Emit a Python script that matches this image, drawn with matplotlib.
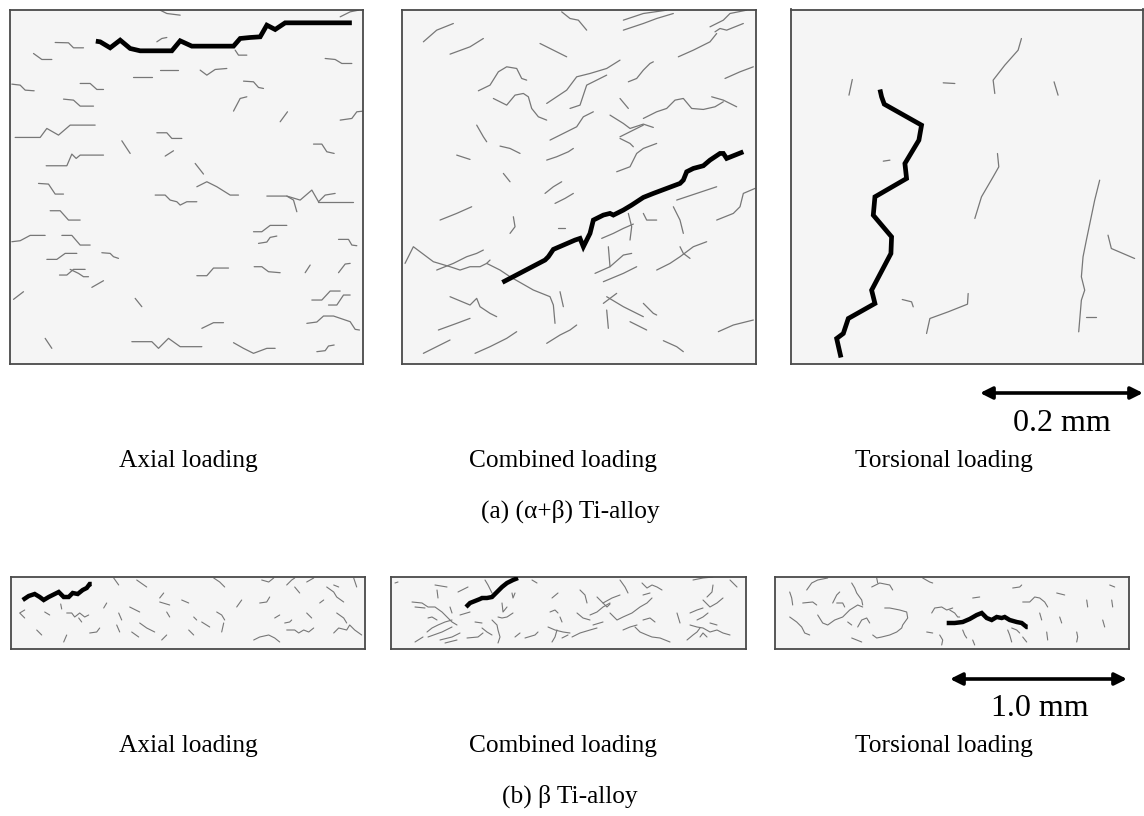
import matplotlib
matplotlib.use("Agg")
import matplotlib.pyplot as plt

W, H = 1144, 816

a_axial_main = [(287,123),(300,125),(330,143),(360,120),(390,145),(420,152),(515,152),(540,122),
                (575,138),(700,138),(720,115),(750,112),(780,110),(800,75),(825,88),(855,68),(1055,68)]
a_axial_minor = [
    [(480,30),(500,40),(540,45)], [(1020,50),(1050,35),(1075,30)],
    [(165,127),(205,128),(220,143),(250,143)], [(100,160),(125,178),(155,178)],
    [(470,125),(485,115),(500,112)], [(705,150),(715,165),(740,165)],
    [(975,175),(1005,178),(1025,190),(1055,190)], [(480,210),(535,210)],
    [(600,210),(620,225),(645,208),(680,205)], [(400,232),(455,232)],
    [(240,250),(270,250),(290,268),(310,268)], [(35,252),(60,255),(75,270),(102,272)],
    [(730,243),(760,245),(775,262),(790,265)], [(190,297),(220,300),(240,318),(280,318)],
    [(700,333),(720,295),(740,290)], [(1020,360),(1055,355),(1070,335),(1090,333)],
    [(840,365),(862,335)], [(45,412),(120,412),(140,385),(175,405),(210,375),(285,375)],
    [(470,398),(500,398),(515,415),(545,415)], [(365,422),(380,445),(390,460)],
    [(495,468),(520,452)], [(940,432),(965,432),(980,455),(1002,460)],
    [(138,497),(200,497),(215,462),(228,475),(240,465),(310,465)], [(585,490),(610,522)],
    [(115,550),(145,552),(165,582),(190,582)], [(590,560),(620,545),(650,560),(690,585),(715,585)],
    [(465,585),(495,585),(510,600),(530,605),(540,615),(560,605),(590,605)],
    [(800,588),(860,588),(880,600),(890,635)],
    [(860,588),(900,600),(935,570),(955,605),(975,585),(1005,580)], [(955,605),(1060,605)],
    [(150,632),(180,632),(205,660),(240,660)], [(760,695),(785,695),(810,676),(860,676)],
    [(35,725),(60,722),(90,706),(135,706)], [(185,706),(215,706),(240,735),(270,735)],
    [(775,730),(800,726),(810,712),(830,708)], [(1015,718),(1045,718),(1055,735),(1070,737)],
    [(140,778),(170,778),(195,760),(230,760)], [(305,758),(330,760),(340,770),(355,775)],
    [(178,825),(200,825),(220,808),(255,808)], [(210,808),(235,820),(250,830),(265,830)],
    [(275,862),(310,842)], [(590,827),(620,827),(640,804),(685,804)],
    [(762,800),(785,800),(805,815),(840,818)], [(915,818),(930,795)],
    [(1015,818),(1035,792),(1050,790)], [(40,898),(70,875)], [(405,895),(425,920)],
    [(935,900),(965,900),(990,873),(1020,873)], [(985,915),(1010,915),(1030,885),(1050,885)],
    [(605,985),(640,968),(670,968)],
    [(920,970),(950,966),(970,948),(1000,948),(1050,965),(1065,988),(1078,990)],
    [(135,1015),(155,1045)], [(395,1025),(455,1025),(475,1045),(505,1015),(540,1040),(605,1040)],
    [(700,1028),(730,1045),(760,1060),(800,1045),(825,1045)],
    [(950,1055),(975,1052),(985,1038),(1002,1035)],
]

a_combined_main = [(337,847),(465,780),(475,770),(490,748),(555,720),(570,715),(580,740),(600,700),
                   (610,660),(640,645),(660,640),(670,645),(700,630),(725,615),(760,592),(790,580),
                   (870,550),(880,540),(890,515),(910,505),(940,497),(960,480),(990,460),(1000,460),
                   (1010,475),(1035,465),(1060,455)]
a_combined_minor = [
    [(100,125),(140,90),(190,70)], [(180,162),(240,140),(280,115)],
    [(515,35),(540,55),(565,60),(590,90)], [(700,60),(760,40),(830,30)],
    [(700,90),(760,70),(800,55),(850,40)], [(960,80),(1000,60),(1020,40),(1070,30)],
    [(975,95),(990,85),(1010,90),(1060,70)], [(450,130),(490,150),(530,170)],
    [(865,170),(910,150),(960,125),(980,100)],
    [(265,272),(300,255),(325,215),(350,200),(380,205),(395,235),(410,240)],
    [(310,295),(350,315),(375,285),(400,280),(415,290),(425,325),(445,350),(470,360)],
    [(540,325),(570,315),(590,255),(620,240),(650,225)],
    [(470,310),(500,290),(530,270),(560,230),(600,220),(650,205),(690,180)],
    [(715,245),(740,235),(760,210),(780,190),(790,185)], [(1005,235),(1050,215),(1090,200)],
    [(690,295),(715,325)],
    [(760,355),(800,335),(830,325),(855,300),(880,295),(905,325),(940,328),(975,320),(1000,305)],
    [(965,290),(1000,300),(1040,320)], [(660,345),(700,370),(720,385),(760,372),(790,382)],
    [(480,420),(520,400),(560,380),(580,350),(610,335)], [(690,410),(720,395),(760,375)],
    [(690,415),(720,430),(730,440)], [(260,375),(280,410),(290,425)],
    [(330,438),(360,445),(390,460)], [(470,480),(500,470),(535,455),(550,445)],
    [(200,465),(240,478)], [(680,515),(720,500),(740,460),(760,445),(800,430)],
    [(340,520),(360,545)], [(465,580),(490,560),(515,545)], [(495,610),(525,595),(550,580)],
    [(150,660),(200,640),(245,620)], [(505,685),(525,685)], [(370,650),(375,680),(360,700)],
    [(635,715),(670,700),(700,685),(730,672)], [(760,640),(770,660),(800,660)],
    [(850,620),(870,660),(880,700)], [(860,600),(920,580),(980,560)],
    [(980,660),(1030,640),(1050,620),(1060,580),(1095,565)], [(715,640),(725,680),(720,720)],
    [(655,740),(660,800)], [(615,820),(660,800),(700,765),(725,760)],
    [(640,845),(700,820),(740,800)],
    [(45,790),(70,740),(90,755),(130,785),(180,800),(210,810),(240,800),(270,800),(290,790),(300,780)],
    [(290,790),(310,800),(330,810),(360,830),(430,870),(480,890),(490,915),(495,970)],
    [(140,810),(190,790),(230,770),(260,760),(280,750)],
    [(800,810),(840,790),(870,770),(910,740),(950,725)], [(870,740),(880,760),(900,775)],
    [(180,890),(240,915),(260,895),(270,920),(300,940),(320,950)], [(510,875),(520,920)],
    [(650,890),(700,920),(740,940),(760,950)], [(640,910),(680,880)],
    [(760,910),(790,940),(800,945)], [(650,930),(655,985)], [(720,965),(770,990)],
    [(145,990),(200,970),(240,955)], [(470,1030),(510,1005),(540,990),(560,975)],
    [(100,1060),(150,1035),(180,1020)], [(255,1060),(300,1040),(350,1015),(380,995)],
    [(820,1022),(860,1040),(880,1055)], [(985,995),(1030,975),(1090,960)],
]

a_torsional_main = [(315,268),(320,290),(328,312),(440,375),(432,420),(405,465),(390,490),(395,535),
                    (300,590),(295,645),(350,710),(348,760),(290,870),(300,910),(220,955),(205,1000),
                    (185,1015),(198,1072)]
a_torsional_minor = [
    [(222,285),(232,238)], [(505,248),(540,250)],
    [(740,115),(730,150),(690,195),(655,240),(660,280)], [(838,245),(850,285)],
    [(325,483),(345,480)], [(668,460),(672,500),(655,530),(620,590),(600,655)],
    [(975,540),(960,600),(935,720),(925,770),(920,830),(930,870),(920,900),(912,995)],
    [(1000,705),(1010,745),(1080,775)], [(382,898),(410,905),(415,920)],
    [(580,880),(578,912),(520,935),(465,955),(455,1000)], [(935,950),(965,950)],
]

b_axial_main = [(12,23),(18,19),(24,17),(29,20),(33,23),(38,20),(44,17),(48,15),(53,20),(58,20),
                (62,16),(67,17),(72,13),(76,11),(79,7),(81,7)]
b_axial_minor = [
    [(103,1),(108,8)], [(126,3),(136,10)], [(50,27),(51,32)],
    [(14,33),(9,36),(14,41)], [(34,35),(39,38)],
    [(56,36),(61,36),(64,40),(69,36),(74,40),(78,38)], [(68,41),(71,45)],
    [(26,53),(31,58)], [(56,58),(53,65)], [(79,56),(86,55),(89,51)], [(93,31),(96,26)],
    [(108,36),(111,43)], [(119,30),(129,35)], [(106,48),(109,55)],
    [(129,46),(136,51),(144,55)], [(121,55),(128,60)], [(149,25),(159,28)],
    [(153,16),(149,21)], [(156,35),(159,40)], [(171,23),(178,26)], [(151,63),(156,58)],
    [(203,1),(209,5),(214,10)], [(251,3),(258,5),(263,1)], [(276,8),(281,3),(284,1)],
    [(284,10),(289,16)], [(296,5),(303,1)], [(316,10),(323,15),(326,20),(333,25)],
    [(323,8),(328,10)], [(343,1),(346,10)], [(226,30),(231,23)],
    [(249,26),(256,25),(259,20)], [(206,35),(211,38),(214,43)], [(183,40),(186,43)],
    [(191,45),(199,50)], [(213,46),(211,55)], [(178,53),(183,58)], [(264,41),(269,38)],
    [(274,46),(279,45),(281,43)], [(276,53),(284,53),(288,56),(293,53),(298,55),(303,51)],
    [(243,63),(249,60),(258,58),(264,61),(269,65)], [(296,36),(301,41)],
    [(323,56),(328,51),(336,53),(339,48),(344,53),(351,58)], [(326,36),(333,41),(336,46)],
    [(309,26),(313,23)],
]

b_combined_main = [(75,30),(79,26),(84,24),(89,22),(91,21),(96,21),(101,20),(106,15),(111,10),
                   (116,6),(122,3),(127,1)]
b_combined_minor = [
    [(4,6),(7,5)], [(44,8),(56,10)], [(67,15),(77,10)], [(46,13),(47,21)],
    [(94,3),(97,8),(101,16)],
    [(21,25),(31,26),(37,30),(44,30),(51,35),(56,40),(61,45),(66,48)], [(24,30),(34,31)],
    [(59,30),(61,36)], [(69,38),(79,35)], [(37,41),(41,40),(46,43)],
    [(36,55),(41,51),(47,48),(54,45),(61,43)], [(37,60),(51,55),(61,50)], [(24,65),(32,60)],
    [(49,63),(61,60),(69,56)], [(54,66),(66,63)], [(76,61),(87,60),(92,56)],
    [(91,51),(96,55),(101,58)], [(101,43),(106,48),(107,53),(109,60),(107,66)],
    [(107,40),(111,41),(116,40),(122,36)], [(111,26),(112,35),(116,30)],
    [(121,16),(122,21),(124,16)], [(84,45),(91,46)], [(124,60),(129,56)],
    [(134,61),(144,58),(147,55)], [(141,3),(146,6)], [(161,21),(167,16)],
    [(159,35),(164,33),(167,36)], [(169,40),(171,45)],
    [(157,50),(164,53),(172,55),(179,56)], [(166,53),(164,60),(161,65)], [(171,61),(177,58)],
    [(189,13),(194,18),(196,26)], [(206,20),(211,25),(216,30),(219,27)],
    [(229,3),(234,10),(237,16)], [(251,6),(256,11),(261,8),(266,10),(271,13)],
    [(212,26),(221,21),(229,18)], [(199,38),(206,35),(212,30),(219,26)],
    [(186,36),(192,41),(199,43)],
    [(219,36),(226,43),(232,40),(241,36),(249,30),(256,26),(261,21)], [(252,18),(259,16)],
    [(181,60),(189,56),(199,53),(206,51)], [(202,48),(212,45)], [(232,53),(239,50),(246,48)],
    [(244,50),(249,55),(256,58),(261,60),(269,61),(279,65)], [(252,43),(259,41),(264,45)],
    [(286,36),(289,46)], [(299,36),(306,33),(312,31)], [(302,3),(312,1),(322,0)],
    [(322,8),(321,15),(316,20)], [(339,3),(346,10)],
    [(312,23),(319,30),(326,26),(332,21)], [(306,43),(312,40),(317,36)],
    [(299,48),(306,50),(312,51),(319,55),(326,53),(332,56),(339,58)],
    [(296,63),(302,58),(306,55),(309,51)], [(309,60),(312,56),(316,60)], [(319,46),(326,48)],
]

b_torsional_main = [(172,46),(180,46),(188,45),(195,42),(202,38),(207,36),(212,41),(217,43),
                    (222,40),(227,41),(230,40),(235,43),(242,45),(247,46),(252,50),(253,50)]
b_torsional_minor = [
    [(15,15),(17,21),(18,28)], [(32,13),(37,6),(43,3),(53,1)], [(28,26),(38,25),(42,28)],
    [(58,26),(62,18),(65,15)], [(62,26),(68,26),(70,30)],
    [(15,40),(22,45),(27,50),(30,56),(35,58)],
    [(43,38),(48,46),(53,48),(60,43),(68,40),(75,33),(83,28),(88,30)],
    [(77,6),(80,11),(82,16),(87,23),(88,28)], [(73,45),(77,48)],
    [(83,50),(87,43),(92,41),(95,46)], [(97,10),(105,6),(115,8),(118,13)], [(102,1),(103,6)],
    [(110,31),(115,31),(125,33),(132,35),(133,41),(128,48),(127,51),(122,55),(115,58),(107,60),(102,61),(98,58)],
    [(77,61),(87,65)], [(148,1),(155,5),(158,6)],
    [(157,36),(160,31),(167,30),(172,33),(178,31)], [(152,55),(158,56)],
    [(165,58),(168,63),(167,68)],
    [(175,33),(180,36),(183,40),(185,40)], [(198,21),(205,20)], [(238,11),(245,10),(247,8)],
    [(248,25),(255,25),(260,20),(265,21),(270,25),(273,30)], [(265,36),(267,43)],
    [(282,16),(290,18)], [(285,40),(287,46)], [(312,23),(313,30)], [(335,8),(340,10)],
    [(337,23),(338,30)], [(328,43),(330,50)], [(188,53),(190,58),(192,61)],
    [(198,63),(200,68)], [(237,51),(242,53),(245,56)], [(233,53),(235,58),(237,65)],
    [(272,55),(273,63)], [(302,55),(303,60),(302,65)], [(248,60),(252,65)],
]

# text
labels_loading = ["Axial loading", "Combined loading", "Torsional loading"]
caption_a = "(a) (\u03b1+\u03b2) Ti-alloy"
caption_b = "(b) \u03b2 Ti-alloy"
scale_a = "0.2 mm"
scale_b = "1.0 mm"

# ---------------- drawing ----------------
plt.rcParams['font.family'] = ['Liberation Serif', 'DejaVu Serif']
fig = plt.figure(figsize=(W / 100, H / 100), dpi=100)
fig.patch.set_facecolor('white')

BG = '#f5f5f5'
MINOR_C = '#777777'


def px_axes(x0, y0, x1, y1):
    return fig.add_axes([x0 / W, 1 - y1 / H, (x1 - x0) / W, (y1 - y0) / H])


def draw_panel(box, lims, main, minor, main_lw, minor_lw):
    ax = px_axes(*box)
    ax.set_facecolor(BG)
    ax.set_xlim(lims[0], lims[1])
    ax.set_ylim(lims[3], lims[2])
    ax.set_xticks([])
    ax.set_yticks([])
    for s in ax.spines.values():
        s.set_color('#4a4a4a')
        s.set_linewidth(1.3)
    for seg in minor:
        xs, ys = zip(*seg)
        ax.plot(xs, ys, color=MINOR_C, lw=minor_lw, solid_capstyle='round',
                solid_joinstyle='round', clip_on=True)
    xs, ys = zip(*main)
    ax.plot(xs, ys, color='black', lw=main_lw, solid_capstyle='butt',
            solid_joinstyle='miter', zorder=5)
    return ax


# top row (alpha+beta)
draw_panel((9.5, 9.5, 363.5, 364), (28, 1090, 28, 1092), a_axial_main, a_axial_minor, 3.4, 0.9)
draw_panel((401.7, 9.5, 756, 364), (35, 1098, 28, 1092), a_combined_main, a_combined_minor, 3.4, 0.9)
draw_panel((790.7, 9.5, 1143.3, 363.5), (47, 1106, 28, 1090), a_torsional_main, a_torsional_minor, 3.4, 0.9)

# bottom row (beta)
draw_panel((10.7, 577, 365, 649), (0, 354.3, 0, 72), b_axial_main, b_axial_minor, 3.2, 0.8)
draw_panel((391, 577, 745.7, 649), (0, 354.7, 0, 72), b_combined_main, b_combined_minor, 3.2, 0.8)
draw_panel((774.7, 577, 1129, 649), (0, 354.3, 0, 72), b_torsional_main, b_torsional_minor, 3.2, 0.8)

# overlay for text and scale bars
ov = fig.add_axes([0, 0, 1, 1])
ov.set_xlim(0, W)
ov.set_ylim(H, 0)
ov.axis('off')
ov.patch.set_alpha(0)

label_x = [188, 563, 944]
for x, t in zip(label_x, labels_loading):
    ov.text(x, 467, t, ha='center', va='baseline', fontsize=18.3)
    ov.text(x, 752, t, ha='center', va='baseline', fontsize=18.3)
ov.text(570, 518, caption_a, ha='center', va='baseline', fontsize=18.3)
ov.text(570, 803, caption_b, ha='center', va='baseline', fontsize=18.3)

arrow_kw = dict(arrowstyle='<|-|>', lw=2.6, color='black', mutation_scale=18,
                shrinkA=0, shrinkB=0)
ov.annotate('', xy=(1143, 393), xytext=(980, 393), arrowprops=arrow_kw)
ov.text(1062, 431, scale_a, ha='center', va='baseline', fontsize=23)
ov.annotate('', xy=(1127, 679), xytext=(950, 679), arrowprops=arrow_kw)
ov.text(1040, 716, scale_b, ha='center', va='baseline', fontsize=23)

fig.savefig('out.png', dpi=100, facecolor='white')
